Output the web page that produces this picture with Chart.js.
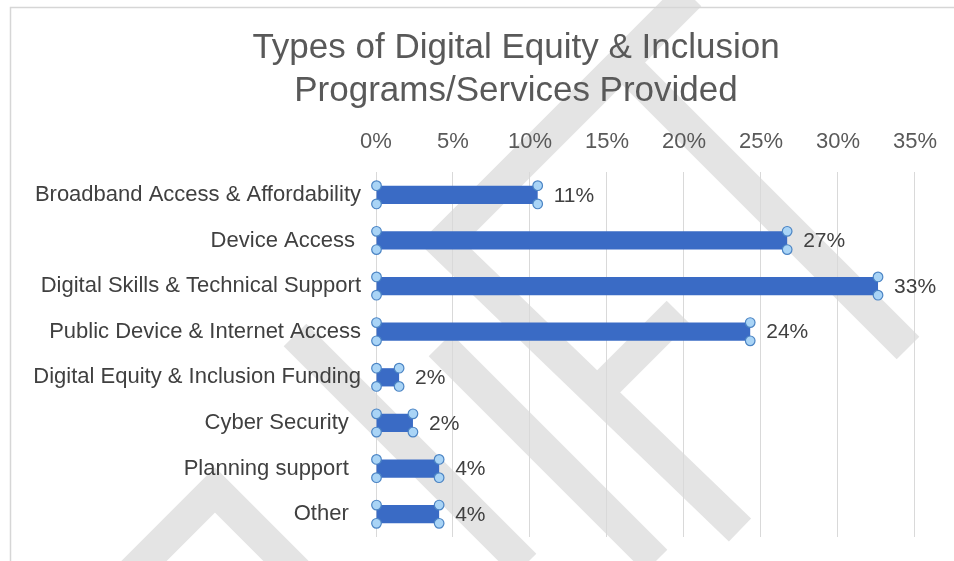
<!DOCTYPE html>
<html><head><meta charset="utf-8">
<script src="https://cdn.jsdelivr.net/npm/chart.js@4.4.1/dist/chart.umd.min.js"></script>
<style>html,body{margin:0;padding:0;background:#fff;}#wrap{width:954px;height:561px;}</style>
</head><body><div id="wrap"><canvas id="c" width="954" height="561"></canvas></div>
<script>
const categories = ['Broadband Access & Affordability', 'Device Access ', 'Digital Skills & Technical Support', 'Public Device & Internet Access', 'Digital Equity & Inclusion Funding', 'Cyber Security  ', 'Planning support  ', 'Other  '];
const shares = [10.5, 26.7, 32.6, 24.3, 1.5, 2.4, 4.1, 4.1];
const shareLabels = ['11%', '27%', '33%', '24%', '2%', '2%', '4%', '4%'];
const xTickValues = [0, 5, 10, 15, 20, 25, 30, 35];
const titleLines = ['Types of Digital Equity & Inclusion', 'Programs/Services Provided'];

const FONT = '"Liberation Sans", Arial, Helvetica, sans-serif';

const frameAndWatermark = {
  id: 'frameAndWatermark',
  beforeDraw(chart) {
    const ctx = chart.ctx;
    ctx.save();
    ctx.fillStyle = '#ffffff';
    ctx.fillRect(0, 0, chart.width, chart.height);
    // watermark strokes (decoration)
    ctx.strokeStyle = '#e4e4e4';
    ctx.lineWidth = 32;
    ctx.lineCap = 'butt';
    ctx.lineJoin = 'miter';
    const strokes = [
      [[690, -5], [442, 243], [740, 530]],
      [[622, 62], [908, 348]],
      [[590, 400], [678, 312]],
      [[295, 335], [525, 565]],
      [[440, 345], [656, 561]],
      [[55, 650], [215, 490], [375, 650]]
    ];
    strokes.forEach(pts => {
      ctx.beginPath();
      ctx.moveTo(pts[0][0], pts[0][1]);
      for (let i = 1; i < pts.length; i++) ctx.lineTo(pts[i][0], pts[i][1]);
      ctx.stroke();
    });
    // frame
    ctx.strokeStyle = '#d6d6d6';
    ctx.lineWidth = 1.5;
    ctx.beginPath();
    ctx.moveTo(10.5, 561);
    ctx.lineTo(10.5, 7.5);
    ctx.lineTo(954, 7.5);
    ctx.stroke();
    ctx.restore();
  }
};

const barDecor = {
  id: 'barDecor',
  afterDatasetsDraw(chart) {
    const ctx = chart.ctx;
    const meta = chart.getDatasetMeta(0);
    ctx.save();
    meta.data.forEach((bar, i) => {
      const p = bar.getProps(['x', 'y', 'base', 'height'], true);
      const top = p.y - p.height / 2, bot = p.y + p.height / 2;
      const pts = [[p.base, top], [p.base, bot], [p.x, top], [p.x, bot]];
      pts.forEach(([hx, hy]) => {
        ctx.beginPath();
        ctx.arc(hx, hy, 4.8, 0, Math.PI * 2);
        ctx.fillStyle = '#a9d4f6';
        ctx.fill();
        ctx.lineWidth = 1.2;
        ctx.strokeStyle = '#4b84c4';
        ctx.stroke();
      });
      ctx.fillStyle = '#404040';
      ctx.font = '21px ' + FONT;
      ctx.textAlign = 'left';
      ctx.textBaseline = 'middle';
      ctx.fillText(shareLabels[i], p.x + 16, p.y + 1);
    });
    ctx.restore();
  }
};

const titleShift = {
  id: 'titleShift',
  afterLayout(chart) {
    if (chart.titleBlock) {
      chart.titleBlock.left = 78;
      chart.titleBlock.right = 954;
    }
  }
};

new Chart(document.getElementById('c'), {
  type: 'bar',
  data: {
    labels: categories,
    datasets: [{
      data: shares,
      backgroundColor: '#3a6bc5',
      borderWidth: 0,
      barPercentage: 0.4,
      categoryPercentage: 1.0
    }]
  },
  plugins: [frameAndWatermark, barDecor, titleShift],
  options: {
    indexAxis: 'y',
    responsive: false,
    devicePixelRatio: 1,
    animation: false,
    layout: { padding: { left: 10, right: 35, top: 10, bottom: 24 } },
    plugins: {
      legend: { display: false },
      tooltip: { enabled: false },
      title: {
        display: true,
        text: titleLines,
        color: '#595959',
        font: { family: FONT, size: 35, weight: 'normal', lineHeight: 1.23 },
        padding: { top: 16.5, bottom: 0 }
      }
    },
    scales: {
      x: {
        position: 'top',
        min: 0,
        max: 35,
        afterBuildTicks(scale) { scale.ticks = xTickValues.map(v => ({ value: v })); },
        afterFit(scale) { scale.height = 59.4; },
        ticks: {
          color: '#595959',
          font: { family: FONT, size: 22 },
          padding: 17,
          maxRotation: 0,
          callback: v => v + '%'
        },
        grid: { color: '#d9d9d9', drawTicks: false, lineWidth: 1 },
        border: { display: false }
      },
      y: {
        afterFit(scale) { scale.width = 366; },
        ticks: {
          color: '#404040',
          font: { family: FONT, size: 22 },
          padding: 7,
          autoSkip: false
        },
        grid: { display: false },
        border: { display: false }
      }
    }
  }
});
</script>
</body></html>
